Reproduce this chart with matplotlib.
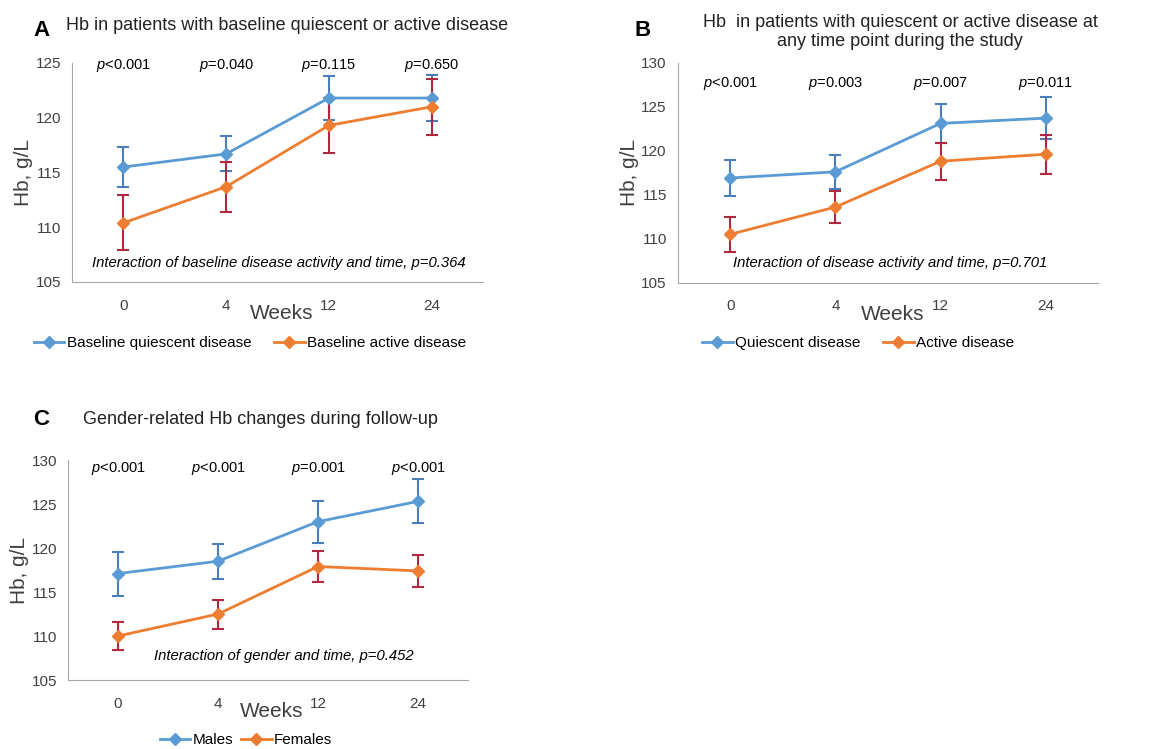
import numpy as np
import matplotlib.pyplot as plt
from matplotlib.lines import Line2D

plt.rcParams['font.family'] = ['Liberation Sans', 'DejaVu Sans']
plt.rcParams['mathtext.fontset'] = 'custom'
plt.rcParams['mathtext.it'] = 'Liberation Sans:italic'
plt.rcParams['mathtext.rm'] = 'Liberation Sans'

weeks = ["0", "4", "12", "24"]

# panel A
a_quiet = [115.5, 116.7, 121.8, 121.8]
a_quiet_err = [1.8, 1.6, 2.0, 2.1]
a_active = [110.4, 113.7, 119.3, 121.0]
a_active_err = [2.5, 2.3, 2.5, 2.55]
a_p = ["<0.001", "=0.040", "=0.115", "=0.650"]

# panel B
b_quiet = [116.9, 117.6, 123.1, 123.7]
b_quiet_err = [2.0, 1.9, 2.2, 2.4]
b_active = [110.5, 113.6, 118.8, 119.6]
b_active_err = [2.0, 1.85, 2.1, 2.2]
b_p = ["<0.001", "=0.003", "=0.007", "=0.011"]

# panel C
c_male = [117.1, 118.5, 123.0, 125.3]
c_male_err = [2.5, 2.0, 2.4, 2.5]
c_female = [110.0, 112.5, 117.9, 117.4]
c_female_err = [1.6, 1.65, 1.8, 1.85]
c_p = ["<0.001", "<0.001", "=0.001", "<0.001"]

BLUE = "#5B9BD5"
ORANGE = "#ED7D31"
BLUE_ERR = "#4A7EBB"
RED_ERR = "#B0283F"
GREY = "#404040"

fig = plt.figure(figsize=(11.51, 7.49), dpi=100)


def panel(rect, s1, e1, s2, e2, ylim, ptext, py, note, note_xy):
    ax = fig.add_axes(rect)
    x = np.arange(len(weeks))
    ax.errorbar(x, s1, yerr=e1, color=BLUE, ecolor=BLUE_ERR, lw=2, elinewidth=1.5,
                capsize=4, capthick=1.5, marker="D", ms=6, zorder=3)
    ax.errorbar(x, s2, yerr=e2, color=ORANGE, ecolor=RED_ERR, lw=2, elinewidth=1.5,
                capsize=4, capthick=1.5, marker="D", ms=6, zorder=3)
    ax.set_xlim(-0.5, len(weeks) - 0.5)
    ax.set_ylim(*ylim)
    ax.set_yticks(np.arange(ylim[0], ylim[1] + 1, 5))
    ax.set_xticks(x)
    ax.set_xticklabels(weeks)
    ax.tick_params(length=0, labelsize=11, colors=GREY, pad=8)
    ax.tick_params(axis="x", pad=12)
    for s in ["top", "right"]:
        ax.spines[s].set_visible(False)
    for s in ["left", "bottom"]:
        ax.spines[s].set_color("#A6A6A6")
    ax.set_ylabel("Hb, g/L", fontsize=15, color=GREY, labelpad=2)
    ax.set_xlabel("Weeks", fontsize=15, color=GREY)
    ax.xaxis.set_label_coords(0.51, -0.1)
    for i, t in enumerate(ptext):
        ax.text(i, py, r"$\mathit{p}$" + t, ha="center", va="center", fontsize=10.5)
    ax.text(note_xy[0], note_xy[1], note, ha="center", va="center",
            fontsize=10.7, style="italic")
    return ax


axA = panel([0.0626, 0.6235, 0.357, 0.2924], a_quiet, a_quiet_err, a_active, a_active_err,
            (105, 125), a_p, 124.8,
            "Interaction of baseline disease activity and time, p=0.364", (1.51, 106.7))
axB = panel([0.589, 0.6226, 0.365, 0.2937], b_quiet, b_quiet_err, b_active, b_active_err,
            (105, 130), b_p, 127.6,
            "Interaction of disease activity and time, p=0.701", (1.52, 107.2))
axC = panel([0.0591, 0.0921, 0.3475, 0.2937], c_male, c_male_err, c_female, c_female_err,
            (105, 130), c_p, 129.0,
            "Interaction of gender and time, p=0.452", (1.66, 107.7))

W, H = 1151, 749
fig.text(42 / W, 1 - 31 / H, "A", fontsize=16, fontweight="bold", ha="center", va="center")
fig.text(287 / W, 1 - 26 / H, "Hb in patients with baseline quiescent or active disease",
         fontsize=13, ha="center", va="center", color="#222222")
fig.text(643 / W, 1 - 31 / H, "B", fontsize=16, fontweight="bold", ha="center", va="center")
fig.text(900 / W, 1 - 32 / H, "Hb  in patients with quiescent or active disease at\nany time point during the study",
         fontsize=13, ha="center", va="center", color="#222222", linespacing=1.2)
fig.text(41 / W, 1 - 420 / H, "C", fontsize=16, fontweight="bold", ha="center", va="center")
fig.text(260 / W, 1 - 420 / H, "Gender-related Hb changes during follow-up",
         fontsize=13, ha="center", va="center", color="#222222")


def handles(labels):
    return [Line2D([], [], color=c, lw=2, marker="D", ms=6) for c in (BLUE, ORANGE)], labels


h, l = handles(["Baseline quiescent disease", "Baseline active disease"])
fig.legend(h, l, loc="center", bbox_to_anchor=(250 / W, 1 - 343 / H), ncol=2, frameon=False,
           fontsize=11, handlelength=2.0, handletextpad=0.15, columnspacing=1.5)
h, l = handles(["Quiescent disease", "Active disease"])
fig.legend(h, l, loc="center", bbox_to_anchor=(858 / W, 1 - 343 / H), ncol=2, frameon=False,
           fontsize=11, handlelength=2.0, handletextpad=0.15, columnspacing=1.5)
h, l = handles(["Males", "Females"])
fig.legend(h, l, loc="center", bbox_to_anchor=(246 / W, 1 - 740 / H), ncol=2, frameon=False,
           fontsize=11, handlelength=2.0, handletextpad=0.15, columnspacing=0.5)

fig.savefig("out.png", dpi=100)
